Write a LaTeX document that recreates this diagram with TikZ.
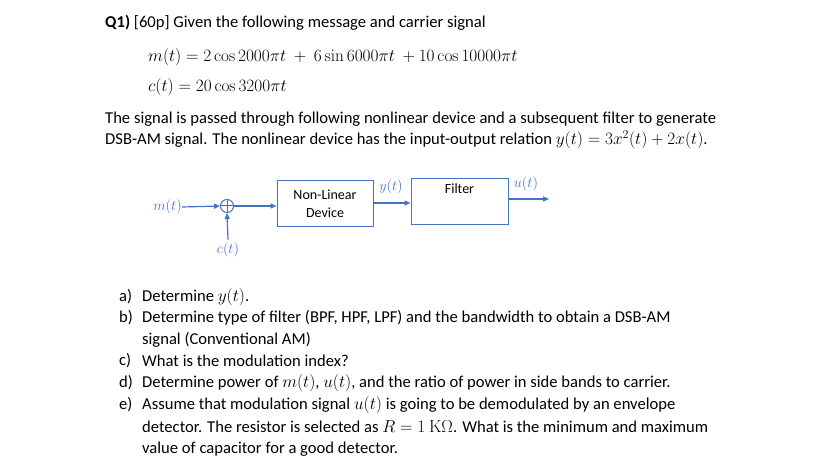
\documentclass[tikz,border=0pt]{standalone}
\usepackage[no-math]{fontspec}
\setmainfont{Carlito}
\usetikzlibrary{arrows.meta}
\definecolor{bl}{RGB}{68,114,196}
\begin{document}
\begin{tikzpicture}[x=1pt,y=-1pt,
 txt/.style={anchor=west,inner sep=0pt,font=\fontsize{16.6}{19}\selectfont},
 blk/.style={draw=bl,line width=1pt,font=\fontsize{14}{18}\selectfont,align=center},
 lab/.style={text=bl,inner sep=0pt,font=\fontsize{14}{16}\selectfont},
 ar/.style={draw=bl,line width=1.2pt,-{Triangle[length=6pt,width=5pt]}}]
\useasboundingbox (0,0) rectangle (828,468);
\node[txt] (q) at (105,23) {\textbf{Q1)} [60p] Given the following message and carrier signal};
\node[txt] (e1) at (148,57) {$m(t)=2\cos 2000\pi t\ +\ 6\sin 6000\pi t\ +10\cos 10000\pi t$};
\node[txt] (e2) at (148,87) {$c(t)=20\cos 3200\pi t$};
\node[txt] (p1) at (105,119) {The signal is passed through following nonlinear device and a subsequent filter to generate};
\node[txt] (p2) at (105,140) {DSB-AM signal. The nonlinear device has the input-output relation $y(t)=3x^2(t)+2x(t)$.};
% diagram
\node[blk,minimum width=96pt,minimum height=46pt] (nl) at (325,204) {Non-Linear\\Device};
\node[blk,minimum width=97pt,minimum height=46pt] (fl) at (459.5,202) {Filter\\[8pt]};
\node[draw=bl,line width=1pt,circle,minimum size=13pt,inner sep=0pt] (s) at (227,206) {};
\draw[bl,line width=1pt] (s.north)--(s.south) (s.west)--(s.east);
\node[lab,anchor=east] (m) at (182,207) {$m(t)$};
\node[lab] (c) at (228,250) {$c(t)$};
\node[lab] (y) at (391,187) {$y(t)$};
\node[lab] (u) at (526,184) {$u(t)$};
\coordinate (uo) at (549,199);
\draw[ar] (m.east)--(s.west);
\draw[ar] (c.north)++(0,-3)--(s.south);
\draw[ar] (s.east)--(nl.west|-s.east);
\draw[ar] (nl.east|-0,203)--(fl.west|-0,203);
\draw[ar] (fl.east|-uo)--(uo);
% list
\foreach \l/\y/\t in {a)/297/{Determine $y(t)$.},
 b)/318/{Determine type of filter (BPF, HPF, LPF) and the bandwidth to obtain a DSB-AM},
 c)/361/{What is the modulation index?},
 d)/383/{Determine power of $m(t)$, $u(t)$, and the ratio of power in side bands to carrier.},
 e)/405/{Assume that modulation signal $u(t)$ is going to be demodulated by an envelope}}
 {\node[txt] at (119,\y) {\l}; \node[txt] at (142,\y) {\t};}
\node[txt] (b2) at (142,340) {signal (Conventional AM)};
\node[txt] (e2b) at (142,427) {detector. The resistor is selected as $R=1\ \mathrm{K}\Omega$. What is the minimum and maximum};
\node[txt] (e3) at (142,449) {value of capacitor for a good detector.};
\end{tikzpicture}
\end{document}
